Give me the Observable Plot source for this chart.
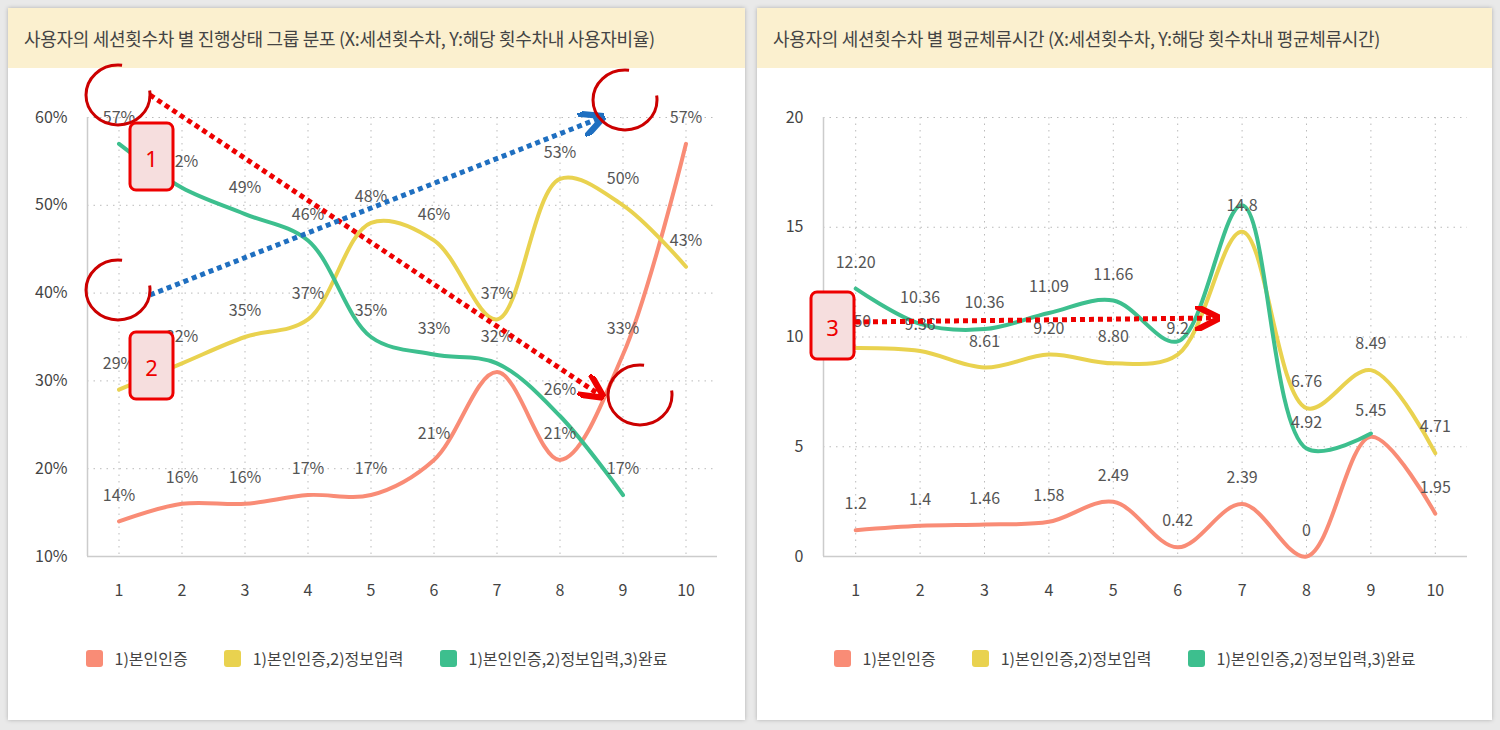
<!DOCTYPE html>
<html><head><meta charset="utf-8">
<script src="https://cdn.jsdelivr.net/npm/d3@7"></script>
<script src="https://cdn.jsdelivr.net/npm/@observablehq/plot@0.6"></script>
<style>
body{margin:0;width:1500px;height:730px;background:#e9e9e9;font-family:"Noto Sans CJK KR","Noto Sans",sans-serif;position:relative;overflow:hidden}
.panel{position:absolute;top:8px;height:712px;background:#fff;box-shadow:0 0 4px rgba(0,0,0,.25)}
.head{height:60px;background:#fbf0cf;color:#444;font-size:18px;line-height:60px;padding-left:16px;white-space:nowrap;letter-spacing:-0.3px}
.legend{position:absolute;top:638px;left:0;right:0;display:flex;justify-content:center;gap:36px;font-size:16px;color:#444}
.legend span{display:flex;align-items:center;gap:12px}
.legend i{display:inline-block;width:17px;height:17px;border-radius:3px}
#ov{position:absolute;left:0;top:0}
</style></head><body>
<div class="panel" id="p1" style="left:8px;width:737px"><div class="head">사용자의 세션횟수차 별 진행상태 그룹 분포 (X:세션횟수차, Y:해당 횟수차내 사용자비율)</div><div id="c1"></div></div>
<div class="panel" id="p2" style="left:757px;width:735px"><div class="head">사용자의 세션횟수차 별 평균체류시간 (X:세션횟수차, Y:해당 횟수차내 평균체류시간)</div><div id="c2"></div></div>
<script>
const sessions=[1,2,3,4,5,6,7,8,9,10];
const seriesNames=["1)본인인증","1)본인인증,2)정보입력","1)본인인증,2)정보입력,3)완료"];
const colors=["#f98c76","#e9d24f","#3dbf8e"];
const ratioAuth=[14,16,16,17,17,21,31,21,33,57];
const ratioAuthLabels=["14%","16%","16%","17%","17%","21%","","21%","33%","57%"];
const ratioInput=[29,32,35,37,48,46,37,53,50,43];
const ratioDone=[57,52,49,46,35,33,32,26,17,null];
const timeAuth=[1.2,1.4,1.46,1.58,2.49,0.42,2.39,0,5.45,1.95];
const timeInput=[9.50,9.36,8.61,9.20,8.80,9.2,14.8,6.76,8.49,4.71];
const timeDone=[12.20,10.6,10.36,11.09,11.66,9.8,16.0,4.92,5.6,null];
const timeLabels=["1.2","1.4","1.46","1.58","2.49","0.42","2.39","0","5.45","1.95"];
const inputLabels=["9.50","9.36","8.61","9.20","8.80","9.2","14.8","6.76","8.49","4.71"];
const doneLabels=["12.20","10.36","10.36","11.09","11.66","","","4.92","",""];

function rows(vals,s,labels){return sessions.map((x,i)=>({x,y:vals[i],s,l:labels?labels[i]:(vals[i]==null?"":vals[i]+"%")})).filter(d=>d.y!=null);}
function chart(data,opt){
  return Plot.plot({width:opt.w,height:532,marginLeft:opt.ml,marginRight:opt.mr,marginTop:49,marginBottom:44,
    style:{fontSize:"16px",color:"#444",fontFamily:"'Noto Sans CJK KR',sans-serif"},
    x:{domain:[0.5,10.5],ticks:sessions,tickSize:0,tickPadding:28,label:null,tickFormat:d=>d},
    y:{domain:opt.yd,ticks:opt.yt,tickSize:0,tickPadding:20,label:null,tickFormat:opt.tf},
    color:{domain:seriesNames,range:colors},
    marks:[
      Plot.gridX(sessions,{stroke:"#bbb",strokeOpacity:1,strokeDasharray:"1.5,5"}),
      Plot.gridY(opt.yt,{stroke:"#bbb",strokeOpacity:1,strokeDasharray:"1.5,5"}),
      Plot.ruleY([opt.yd[0]],{stroke:"#ccc",strokeWidth:1.5}),
      Plot.ruleX([0.5],{stroke:"#ccc",strokeWidth:1.5}),
      Plot.line(data,{x:"x",y:"y",z:"s",stroke:"s",strokeWidth:4,curve:"catmull-rom"}),
      Plot.text(data,{x:"x",y:"y",text:"l",dy:-26,fill:"#555",fontSize:16})
    ]});
}
const d1=[...rows(ratioAuth,seriesNames[0],ratioAuthLabels),...rows(ratioInput,seriesNames[1]),...rows(ratioDone,seriesNames[2])];
document.getElementById("c1").append(chart(d1,{w:737,ml:79,mr:28,yd:[10,60],yt:[10,20,30,40,50,60],tf:d=>d+"%"}));
const d2=[...rows(timeAuth,seriesNames[0],timeLabels),...rows(timeInput,seriesNames[1],inputLabels),...rows(timeDone,seriesNames[2],doneLabels)];
document.getElementById("c2").append(chart(d2,{w:735,ml:66,mr:25,yd:[0,20],yt:[0,5,10,15,20],tf:d=>d}));
for(const p of ["p1","p2"]){
  const lg=document.createElement("div");lg.className="legend";
  seriesNames.forEach((n,i)=>{const s=document.createElement("span");s.innerHTML=`<i style="background:${colors[i]}"></i>${n}`;lg.append(s);});
  document.getElementById(p).append(lg);
}
const ov=d3.select("body").append("svg").attr("id","ov").attr("width",1500).attr("height",730);
const defs=ov.append("defs");
[["ar","#e00"],["ab","#1f6fc0"]].forEach(([id,c])=>defs.append("marker").attr("id",id).attr("viewBox","0 0 10 10").attr("refX",8).attr("refY",5).attr("markerWidth",5).attr("markerHeight",5).attr("orient","auto").append("path").attr("d","M0,0L10,5L0,10").attr("fill","none").attr("stroke",c).attr("stroke-width",2.5));
const arrows=[[150,95,600,395,"#e00","ar"],[150,295,600,118,"#1f6fc0","ab"],[855,322,1215,318,"#e00","ar"]];
arrows.forEach(a=>ov.append("line").attr("x1",a[0]).attr("y1",a[1]).attr("x2",a[2]).attr("y2",a[3]).attr("stroke",a[4]).attr("stroke-width",5).attr("stroke-dasharray","5,4").attr("marker-end",`url(#${a[5]})`));
const circles=[[118,95],[118,290],[625,100],[640,395]];
circles.forEach(c=>ov.append("ellipse").attr("cx",c[0]).attr("cy",c[1]).attr("rx",32).attr("ry",30).attr("fill","none").attr("stroke","#c00").attr("stroke-width",3).attr("stroke-dasharray","150,40"));
const boxes=[[130,123,"1"],[130,332,"2"],[811,292,"3"]];
boxes.forEach(b=>{ov.append("rect").attr("x",b[0]).attr("y",b[1]).attr("width",43).attr("height",67).attr("rx",6).attr("fill","#f6dede").attr("stroke","#e00").attr("stroke-width",3);
 ov.append("text").attr("x",b[0]+21.5).attr("y",b[1]+44).attr("text-anchor","middle").attr("font-size",22).attr("fill","#e00").attr("font-family","Noto Sans").text(b[2]);});
</script></body></html>
